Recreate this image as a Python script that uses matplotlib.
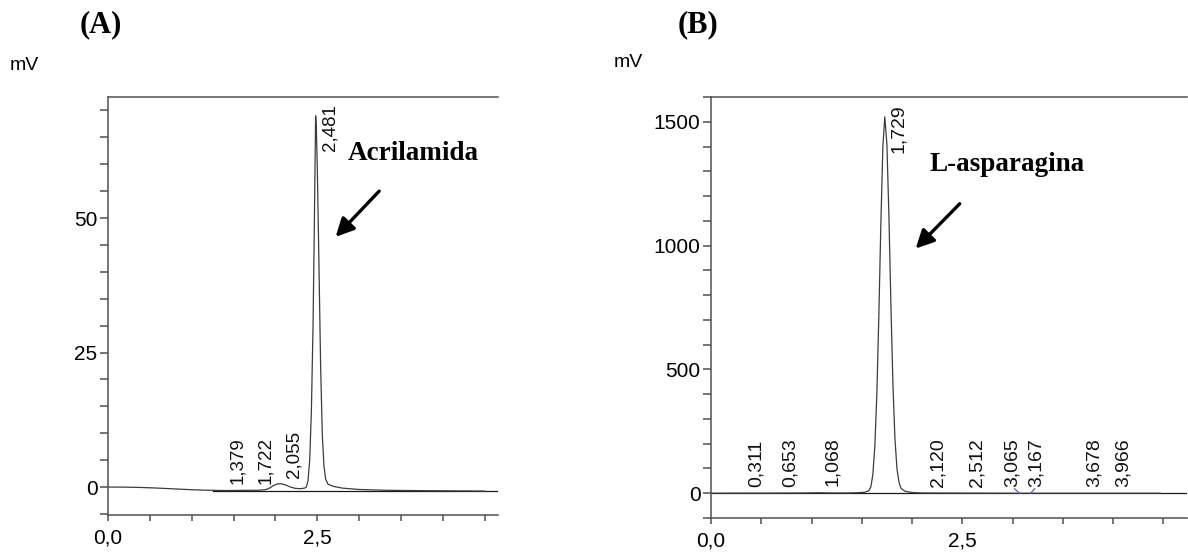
import numpy as np
import matplotlib
matplotlib.use('Agg')
import matplotlib.pyplot as plt
from matplotlib.ticker import MultipleLocator, FuncFormatter

# (A) acrylamide standard: retention time (min) vs detector signal (mV)
time_a = [0.00, 0.20, 0.40, 0.60, 0.80, 1.00, 1.20, 1.40, 1.60, 1.80, 1.88,
          1.93, 1.98, 2.03, 2.07, 2.12, 2.18, 2.24, 2.30, 2.35, 2.37, 2.39,
          2.41, 2.43, 2.45, 2.465, 2.473, 2.481, 2.489, 2.50, 2.52, 2.54,
          2.56, 2.58, 2.60, 2.63, 2.70, 2.80, 3.00, 3.30, 3.60, 4.00, 4.50]
signal_a = [0.0, -0.02, -0.08, -0.2, -0.35, -0.5, -0.6, -0.65, -0.62, -0.6,
            -0.5, -0.2, 0.3, 0.6, 0.6, 0.4, 0.0, -0.25, -0.3, -0.2, 0.0, 1.2,
            5, 14, 30, 48, 59, 69, 67, 60, 42, 23,
            10, 4, 1.5, 0.5, 0.1, -0.2, -0.45, -0.6, -0.65, -0.7, -0.75]
peaks_a = [1.379, 1.722, 2.055, 2.481]
peak_labels_a = ['1,379', '1,722', '2,055', '2,481']
baseline_a_t = [1.26, 4.66]
baseline_a_mv = [-0.8, -0.8]

# (B) L-asparagine standard
time_b = [0.00, 0.30, 0.60, 0.90, 1.07, 1.20, 1.35, 1.45, 1.53, 1.57, 1.59,
          1.61, 1.63, 1.65, 1.67, 1.69, 1.71, 1.729, 1.75, 1.77, 1.79, 1.81,
          1.83, 1.85, 1.87, 1.89, 1.93, 2.00, 2.10, 2.50, 3.00, 3.50, 4.00, 4.47]
signal_b = [0, 0.5, 0.5, 1, 2, 1, 1, 2, 4, 10, 25,
            75, 190, 400, 720, 1090, 1400, 1520, 1410, 1120, 760, 440,
            220, 100, 45, 20, 8, 3, 1, 0.5, 0, 0, 0, 0]
peaks_b = [0.311, 0.653, 1.068, 1.729, 2.120, 2.512, 3.065, 3.167, 3.678, 3.966]
peak_labels_b = ['0,311', '0,653', '1,068', '1,729', '2,120', '2,512',
                 '3,065', '3,167', '3,678', '3,966']
baseline_b_t = [0.0, 4.74]
baseline_b_mv = [0, 0]
# small blue integration marks around 3,065 / 3,167
marks_b_t = [[3.02, 3.07], [3.22, 3.18]]
marks_b_mv = [[18, 0], [18, 0]]

TRACE = '#3c3c3c'
AXIS = '#505050'
SANS = 'Liberation Sans'
SERIF = 'Liberation Serif'


def comma(v, pos):
    return f'{v:.1f}'.replace('.', ',')


def style_axes(ax, xlim, ylim, ymajor, yminor):
    ax.set_xlim(*xlim)
    ax.set_ylim(*ylim)
    ax.spines['right'].set_visible(False)
    for s in ('left', 'top', 'bottom'):
        ax.spines[s].set_color(AXIS)
        ax.spines[s].set_linewidth(1.1)
    ax.xaxis.set_major_locator(MultipleLocator(2.5))
    ax.xaxis.set_minor_locator(MultipleLocator(0.5))
    ax.xaxis.set_major_formatter(FuncFormatter(comma))
    ax.yaxis.set_major_locator(MultipleLocator(ymajor))
    ax.yaxis.set_minor_locator(MultipleLocator(yminor))
    ax.tick_params(which='both', direction='out', color=AXIS, width=1.1,
                   labelsize=15)
    ax.tick_params(axis='y', which='both', length=5.5, pad=2)
    ax.tick_params(axis='x', which='both', length=4, pad=6)
    for lab in ax.get_xticklabels() + ax.get_yticklabels():
        lab.set_family(SANS)


def label_peaks(ax, times, values, peaks, labels, size):
    top = ax.get_ylim()[1]
    # horizontal offset of each label in points (right of the apex);
    # labels that would collide are spread around their common midpoint
    px_per_unit = ax.get_position().width * fig.get_figwidth() * 72 / (
        ax.get_xlim()[1] - ax.get_xlim()[0])
    dx = [10.0] * len(peaks)
    for i in range(len(peaks) - 1):
        gap = (peaks[i + 1] - peaks[i]) * px_per_unit
        if gap < 16:
            mid = gap / 2
            dx[i] = mid - 8.5
            dx[i + 1] = -mid + 8.5
    for p, lab, off in zip(peaks, labels, dx):
        y = np.interp(p, times, values)
        if y > 0.5 * top:
            # tall peak: label hangs from the top of the frame
            ax.annotate(lab, xy=(p, 1), xycoords=('data', 'axes fraction'),
                        xytext=(off, -5), textcoords='offset points',
                        rotation=90, ha='center', va='top', fontsize=size,
                        family=SANS, color='#111111')
        else:
            ax.annotate(lab, xy=(p, y), xytext=(off, 4.5),
                        textcoords='offset points', rotation=90,
                        ha='center', va='bottom', fontsize=size,
                        family=SANS, color='#111111')


fig = plt.figure(figsize=(11.88, 5.52), dpi=100)
ax_a = fig.add_axes([0.0909, 0.0670, 0.3283, 0.7573])
ax_b = fig.add_axes([0.5985, 0.0616, 0.4010, 0.7627])

ARROW = dict(arrowstyle='-|>,head_length=1.1,head_width=0.55',
             color='black', lw=2.4, shrinkA=0, shrinkB=0)

# --- Panel A ---
ax_a.plot(baseline_a_t, baseline_a_mv, color='#1a1a1a', linewidth=0.9)
ax_a.plot(time_a, signal_a, color=TRACE, linewidth=0.9)
style_axes(ax_a, (0, 4.66), (-5.2, 72.5), 25, 5)
label_peaks(ax_a, time_a, signal_a, peaks_a, peak_labels_a, 13.5)
ax_a.text(3.65, 62, 'Acrilamida', ha='center', va='center', fontsize=19.5,
          fontweight='bold', family=SERIF)
ax_a.annotate('', xy=(2.72, 46.5), xytext=(3.24, 55), arrowprops=ARROW)

# --- Panel B ---
ax_b.plot(baseline_b_t, baseline_b_mv, color='#1a1a1a', linewidth=0.9)
ax_b.plot(time_b, signal_b, color=TRACE, linewidth=0.9)
for mt, mv in zip(marks_b_t, marks_b_mv):
    ax_b.plot(mt, mv, color='#5a5ad6', linewidth=0.9)
style_axes(ax_b, (0, 4.74), (-100, 1600), 500, 100)
label_peaks(ax_b, time_b, signal_b, peaks_b, peak_labels_b, 14)
ax_b.text(2.95, 1327, 'L-asparagina', ha='center', va='center', fontsize=19.5,
          fontweight='bold', family=SERIF)
ax_b.annotate('', xy=(2.036, 988), xytext=(2.475, 1169), arrowprops=ARROW)

# panel letters and units
fig.text(101 / 1188, 1 - 25 / 552, '(A)', ha='center', va='center',
         fontsize=22, fontweight='bold', family=SERIF)
fig.text(698 / 1188, 1 - 25 / 552, '(B)', ha='center', va='center',
         fontsize=22, fontweight='bold', family=SERIF)
fig.text(24 / 1188, 1 - 65 / 552, 'mV', ha='center', va='center',
         fontsize=14, family=SANS)
fig.text(628 / 1188, 1 - 62 / 552, 'mV', ha='center', va='center',
         fontsize=14, family=SANS)

fig.savefig('out.png', dpi=100)
